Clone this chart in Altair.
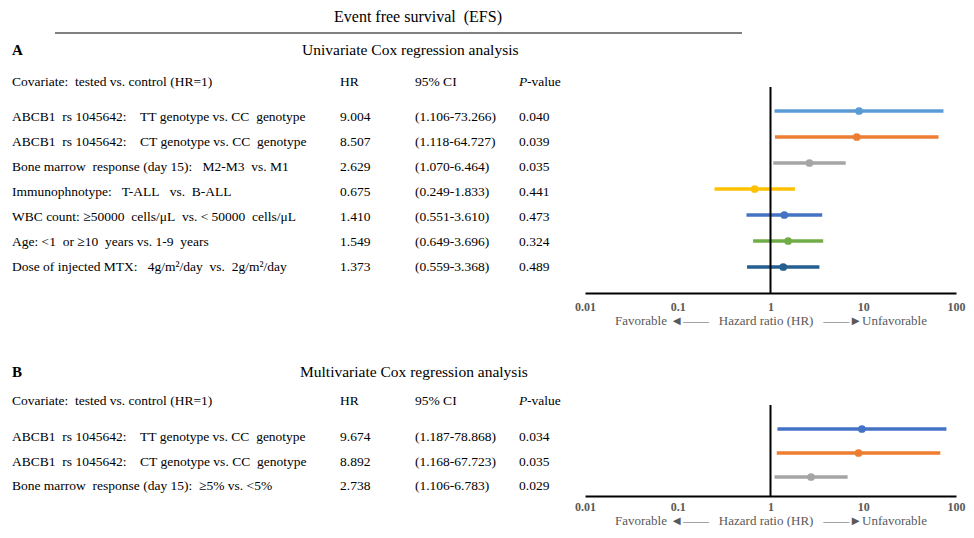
import altair as alt
import pandas as pd

FONT = "Liberation Serif"
NB = "\u00a0"

# ---------------- data ----------------
uni_cov = [
    "ABCB1  rs 1045642:    TT genotype vs. CC  genotype",
    "ABCB1  rs 1045642:    CT genotype vs. CC  genotype",
    "Bone marrow  response (day 15):   M2-M3  vs. M1",
    "Immunophnotype:   T-ALL   vs.  B-ALL",
    "WBC count: ≥50000  cells/μL  vs. < 50000  cells/μL",
    "Age: <1  or ≥10  years vs. 1-9  years",
    "Dose of injected MTX:   4g/m²/day  vs.  2g/m²/day",
]
uni_hr = [9.004, 8.507, 2.629, 0.675, 1.410, 1.549, 1.373]
uni_lo = [1.106, 1.118, 1.070, 0.249, 0.551, 0.649, 0.559]
uni_hi = [73.266, 64.727, 6.464, 1.833, 3.610, 3.696, 3.368]
uni_p = ["0.040", "0.039", "0.035", "0.441", "0.473", "0.324", "0.489"]
uni_colors = ["#5B9BD5", "#ED7D31", "#A5A5A5", "#FFC000", "#4472C4", "#70AD47", "#255E91"]

multi_cov = [
    "ABCB1  rs 1045642:    TT genotype vs. CC  genotype",
    "ABCB1  rs 1045642:    CT genotype vs. CC  genotype",
    "Bone marrow  response (day 15):  ≥5% vs. <5%",
]
multi_hr = [9.674, 8.892, 2.738]
multi_lo = [1.187, 1.168, 1.106]
multi_hi = [78.868, 67.723, 6.783]
multi_p = ["0.034", "0.035", "0.029"]
multi_colors = ["#4472C4", "#ED7D31", "#A5A5A5"]

tick_values = [0.01, 0.1, 1, 10, 100]
header = ["Covariate:  tested vs. control (HR=1)", "HR", "95% CI", "P", "-value"]
axis_title = "Favorable ◄——   Hazard ratio (HR)   ——►Unfavorable"

TXT = 13.5


def nb(s):
    return s.replace(" ", NB)


def label(text, x, y, size=TXT, weight="normal", style="normal", align="left"):
    return alt.Chart(pd.DataFrame({"t": [nb(text)]})).mark_text(
        align=align, baseline="middle", font=FONT, fontSize=size,
        fontWeight=weight, fontStyle=style, color="black"
    ).encode(text="t:N", x=alt.value(x), y=alt.value(y))


def table_layers(cov, hr, lo, hi, p, yr, head_y):
    n = len(cov)
    df = pd.DataFrame({
        "row": list(range(n)),
        "cov": [nb(c) for c in cov],
        "hr": [f"{v:.3f}" for v in hr],
        "ci": [f"({a:.3f}-{b:.3f})" for a, b in zip(lo, hi)],
        "p": p,
    })
    ys = alt.Y("row:Q", scale=alt.Scale(domain=[0, n - 1], range=yr, nice=False, zero=False), axis=None)
    layers = []
    for field, xpos in [("cov", 4), ("hr", 332), ("ci", 407), ("p", 511)]:
        layers.append(
            alt.Chart(df).mark_text(align="left", baseline="middle", font=FONT, fontSize=TXT, color="black")
            .encode(x=alt.value(xpos), y=ys, text=f"{field}:N")
        )
    layers += [
        label(header[0], 4, head_y),
        label(header[1], 332, head_y),
        label(header[2], 407, head_y),
        label(header[3], 511, head_y, style="italic"),
        label(header[4], 519, head_y),
    ]
    return layers


def forest_layers(hr, lo, hi, colors, xr, yr, rule_y, lab_pad, title_pad):
    n = len(hr)
    df = pd.DataFrame({"row": list(range(n)), "hr": hr, "lo": lo, "hi": hi, "color": colors})
    xs = alt.Scale(type="log", domain=[0.01, 100], range=xr, nice=False)
    ys = alt.Scale(domain=[0, n - 1], range=yr, nice=False, zero=False)
    axis = alt.Axis(
        values=tick_values, format="~g", title=nb(axis_title), grid=False, ticks=False,
        domainColor="black", domainWidth=2, labelFont=FONT, labelFontSize=12,
        labelFontWeight="bold", labelColor="#595959", labelPadding=lab_pad, labelFlush=False,
        labelOverlap=False, titleFont=FONT, titleFontSize=13, titleFontWeight="normal",
        titleColor="#595959", titlePadding=title_pad,
    )
    ci = alt.Chart(df).mark_rule(strokeWidth=3.5).encode(
        x=alt.X("lo:Q", scale=xs, axis=axis), x2="hi:Q",
        y=alt.Y("row:Q", scale=ys, axis=None),
        color=alt.Color("color:N", scale=None),
    )
    pts = alt.Chart(df).mark_circle(size=60, opacity=1).encode(
        x=alt.X("hr:Q", scale=xs, axis=None),
        y=alt.Y("row:Q", scale=ys, axis=None),
        color=alt.Color("color:N", scale=None),
    )
    vline = alt.Chart(pd.DataFrame({"v": [1]})).mark_rule(color="black", strokeWidth=2).encode(
        x=alt.X("v:Q", scale=xs, axis=None),
        y=alt.value(rule_y[0]), y2=alt.value(rule_y[1]),
    )
    return [ci, vline, pts]


# page -> chart coordinates
A_TOP = 8
B_TOP = 337
X0 = 8
XR = [585 - X0, 956 - X0]

# ---------------- panel A ----------------
A_H = 293 - A_TOP
a_layers = forest_layers(uni_hr, uni_lo, uni_hi, uni_colors, XR,
                         [111 - A_TOP, 267 - A_TOP], [87 - A_TOP, A_H], 8, 2)
a_layers += [
    label("Event free survival  (EFS)", 418 - X0, 17 - A_TOP, size=16, align="center"),
    alt.Chart(pd.DataFrame({"k": [0]})).mark_rule(color="black", strokeWidth=1).encode(
        x=alt.value(55 - X0), x2=alt.value(742 - X0), y=alt.value(33 - A_TOP)),
    label("A", 12 - X0, 50 - A_TOP, size=15, weight="bold"),
    label("Univariate Cox regression analysis", 302 - X0, 50 - A_TOP, size=15.5),
]
a_layers += table_layers(uni_cov, uni_hr, uni_lo, uni_hi, uni_p,
                         [117 - A_TOP, 267 - A_TOP], 82 - A_TOP)
chart_a = alt.layer(*a_layers).resolve_scale(x="independent", y="independent").properties(width=958, height=A_H)

# ---------------- panel B ----------------
B_H = 496 - B_TOP
b_layers = forest_layers(multi_hr, multi_lo, multi_hi, multi_colors, XR,
                         [429 - B_TOP, 477 - B_TOP], [405 - B_TOP, B_H], 5, 2)
b_layers += [
    label("B", 12 - X0, 372 - B_TOP, size=15, weight="bold"),
    label("Multivariate Cox regression analysis", 300 - X0, 372 - B_TOP, size=15.5),
]
b_layers += table_layers(multi_cov, multi_hr, multi_lo, multi_hi, multi_p,
                         [437 - B_TOP, 486 - B_TOP], 401 - B_TOP)
chart_b = alt.layer(*b_layers).resolve_scale(x="independent", y="independent").properties(width=958, height=B_H)

chart = alt.vconcat(chart_a, chart_b, spacing=B_TOP - (A_TOP + A_H), bounds="flush").properties(
    padding=0, background="white"
).configure_view(stroke=None)

chart.save("out.html", embed_options={"renderer": "svg", "actions": False})
